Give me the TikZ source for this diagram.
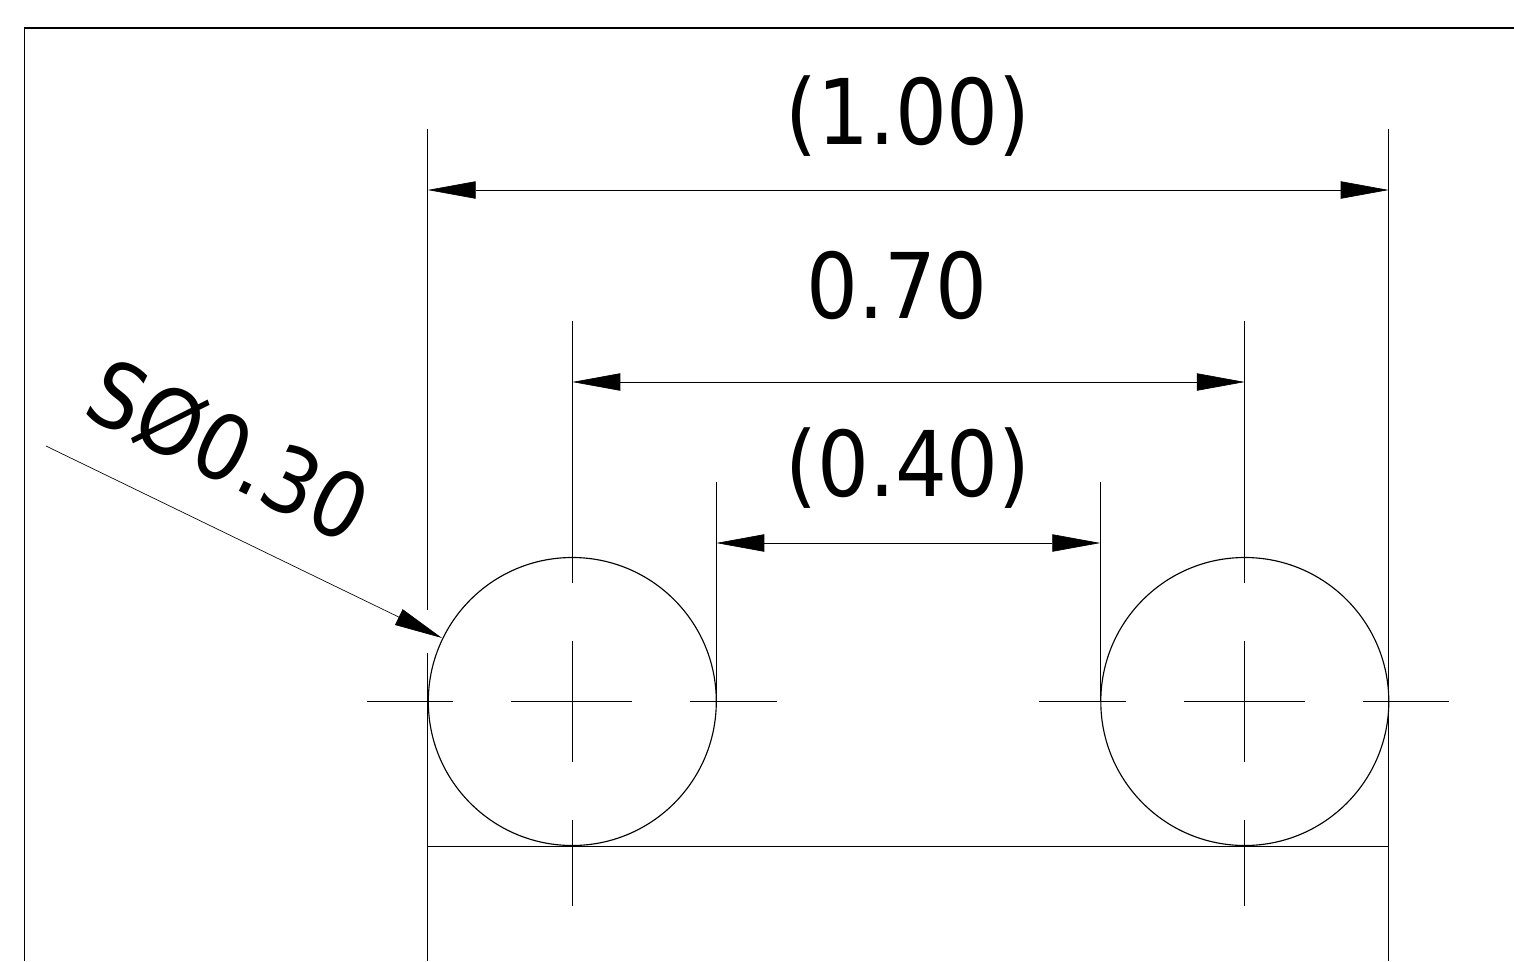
\documentclass[tikz,border=0pt]{standalone}
\usepackage{fontspec}
\setmainfont{DejaVu Sans Condensed}
\usetikzlibrary{arrows.meta}
\tikzset{
 x=0.75pt,y=-0.75pt,
 thinl/.style={line width=0.5pt,black},
 objl/.style={line width=0.85pt,black},
 dim/.style={thinl,{Triangle[length=36pt,width=13pt]}-{Triangle[length=36pt,width=13pt]}},
 lead/.style={thinl,-{Triangle[length=36pt,width=13pt]}},
 lbl/.style={font=\fontsize{68}{68}\selectfont,inner sep=0pt,anchor=center}
}
\begin{document}
\begin{tikzpicture}
\useasboundingbox (0,0) rectangle (1514,961);
\fill[white] (0,0) rectangle (1514,961);
\draw[line width=1.1pt,black] (24.5,961) -- (24.5,28) -- (1514,28);
% base
\coordinate (bl) at (427.7,961); \coordinate (br) at (1388.7,961);
\coordinate (tl) at (427.7,846.3); \coordinate (tr) at (1388.7,846.3);
\draw[objl] (bl) -- (tl) -- (tr) -- (br);
% circles
\node[draw,objl,circle,minimum size=216pt,inner sep=0pt] (c1) at (572.3,701.5) {};
\node[draw,objl,circle,minimum size=216pt,inner sep=0pt] (c2) at (1244.8,701.5) {};
% centre lines
\foreach \c in {572.3,1244.8}{
 \draw[thinl] (\c,321) -- (\c,583);
 \draw[thinl] (\c,641) -- (\c,762);
 \draw[thinl] (\c,820) -- (\c,906);
 \draw[thinl] (\c-205.5,701.3) -- (\c-119,701.3);
 \draw[thinl] (\c-61,701.3) -- (\c+60,701.3);
 \draw[thinl] (\c+118,701.3) -- (\c+204.5,701.3);
}
% extension lines
\draw[thinl] (427.7,129) -- (427.7,610);
\draw[thinl] (427.7,653) -- (427.7,846);
\draw[thinl] (1388.7,129) -- (1388.7,846);
\draw[thinl] (716.3,482) -- (716.3,701);
\draw[thinl] (1100.3,482) -- (1100.3,701);
% dims
\coordinate (a1) at (427.7,190); \coordinate (a2) at (1388.7,190);
\coordinate (b1) at (572.3,382); \coordinate (b2) at (1244.8,382);
\coordinate (d1) at (716.3,543); \coordinate (d2) at (1100.3,543);
\draw[dim] (a1) -- (a2);
\draw[dim] (b1) -- (b2);
\draw[dim] (d1) -- (d2);
\node[lbl] (t1) at (908,116) {(1.00)};
\node[lbl] (t2) at (897,285) {0.70};
\node[lbl] (t3) at (908,468) {(0.40)};
% leader
\coordinate (l0) at (46,446); \coordinate (l1) at (442,638);
\draw[lead] (l0) -- (l1);
\node[lbl,rotate=-26] (t4) at (229,450) {SØ0.30};
\end{tikzpicture}
\end{document}
